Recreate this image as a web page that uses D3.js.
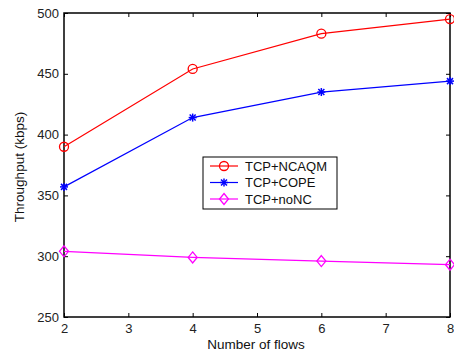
<!DOCTYPE html>
<meta charset="utf-8">
<script src="https://d3js.org/d3.v7.min.js"></script>
<style>
  body { margin: 0; background: #fff; }
  text { font-family: "Liberation Sans", Arial, sans-serif; }
</style>
<div id="my_dataviz"></div>
<script>
// data
var flows = [2, 4, 6, 8];
var ncaqm = [390, 454, 483, 495];
var cope = [357, 414, 435, 444];
var nonc = [304, 299, 296, 293];
var xTicks = [2, 3, 4, 5, 6, 7, 8];
var yTicks = [250, 300, 350, 400, 450, 500];

var margin = {top: 13, right: 4, bottom: 36, left: 64},
    width = 454 - margin.left - margin.right,
    height = 353 - margin.top - margin.bottom;

var svg = d3.select("#my_dataviz")
  .append("svg")
    .attr("width", 454)
    .attr("height", 353)
  .append("g")
    .attr("transform", "translate(" + margin.left + "," + margin.top + ")");

var x = d3.scaleLinear().domain([2, 8]).range([0, width]);
var y = d3.scaleLinear().domain([250, 500]).range([height, 0]);

// axes, MATLAB style: ticks point inward, on all four sides
function styleAxis(g) {
  g.select(".domain").remove();
  g.selectAll("line").attr("stroke", "#000");
  g.selectAll("text").style("font-size", "13px").attr("fill", "#222");
}
svg.append("g")
  .attr("transform", "translate(0," + height + ")")
  .call(d3.axisBottom(x).tickValues(xTicks).tickSizeInner(-4).tickPadding(7).tickFormat(d3.format("d")))
  .call(styleAxis);
svg.append("g")
  .call(d3.axisTop(x).tickValues(xTicks).tickSizeInner(-4).tickFormat(""))
  .call(styleAxis);
svg.append("g")
  .call(d3.axisLeft(y).tickValues(yTicks).tickSizeInner(-4).tickPadding(5).tickFormat(d3.format("d")))
  .call(styleAxis);
svg.append("g")
  .attr("transform", "translate(" + width + ",0)")
  .call(d3.axisRight(y).tickValues(yTicks).tickSizeInner(-4).tickFormat(""))
  .call(styleAxis);

svg.append("rect")
  .attr("width", width).attr("height", height)
  .attr("fill", "none").attr("stroke", "#000").attr("stroke-width", 1.5);

// axis labels
svg.append("text")
  .attr("x", width / 2 - 1).attr("y", height + 32)
  .attr("text-anchor", "middle")
  .style("font-size", "13.5px").attr("fill", "#111")
  .text("Number of flows");
svg.append("text")
  .attr("transform", "rotate(-90)")
  .attr("x", -height / 2 - 2).attr("y", -40)
  .attr("text-anchor", "middle")
  .style("font-size", "13.5px").attr("fill", "#111")
  .text("Throughput (kbps)");

var series = [
  {name: "TCP+NCAQM", values: ncaqm, color: "#ff0000", marker: "circle"},
  {name: "TCP+COPE", values: cope, color: "#0000ff", marker: "star"},
  {name: "TCP+noNC", values: nonc, color: "#ff00ff", marker: "diamond"}
];

var line = d3.line()
  .x(function(d, i) { return x(flows[i]) })
  .y(function(d) { return y(d) });

function drawMarker(g, type, color) {
  if (type == "circle") {
    g.append("circle").attr("r", 4.5)
      .attr("fill", "none").attr("stroke", color).attr("stroke-width", 1.3);
  } else if (type == "star") {
    var s = 4;
    [[-s, 0, s, 0], [0, -s, 0, s], [-s * 0.75, -s * 0.75, s * 0.75, s * 0.75], [-s * 0.75, s * 0.75, s * 0.75, -s * 0.75]]
      .forEach(function(l) {
        g.append("line").attr("x1", l[0]).attr("y1", l[1]).attr("x2", l[2]).attr("y2", l[3])
          .attr("stroke", color).attr("stroke-width", 1.5);
      });
  } else {
    g.append("path").attr("d", "M0,-5.5L4.5,0L0,5.5L-4.5,0Z")
      .attr("fill", "none").attr("stroke", color).attr("stroke-width", 1.3);
  }
}

series.forEach(function(s) {
  svg.append("path")
    .datum(s.values)
    .attr("d", line)
    .attr("fill", "none")
    .attr("stroke", s.color)
    .attr("stroke-width", 1.2);
  s.values.forEach(function(v, i) {
    var g = svg.append("g").attr("transform", "translate(" + x(flows[i]) + "," + y(v) + ")");
    drawMarker(g, s.marker, s.color);
  });
});

// legend
var lg = svg.append("g").attr("transform", "translate(" + (203 - margin.left) + "," + (157 - margin.top) + ")");
lg.append("rect").attr("width", 134).attr("height", 52)
  .attr("fill", "#fff").attr("stroke", "#000").attr("stroke-width", 1);
series.forEach(function(s, i) {
  var yy = 9 + i * 16.5;
  lg.append("line").attr("x1", 7).attr("x2", 35).attr("y1", yy).attr("y2", yy)
    .attr("stroke", s.color).attr("stroke-width", 1.2);
  drawMarker(lg.append("g").attr("transform", "translate(21," + yy + ")"), s.marker, s.color);
  lg.append("text").attr("x", 42).attr("y", yy).attr("dy", "0.35em")
    .style("font-size", "13px").attr("fill", "#111")
    .text(s.name);
});
</script>
